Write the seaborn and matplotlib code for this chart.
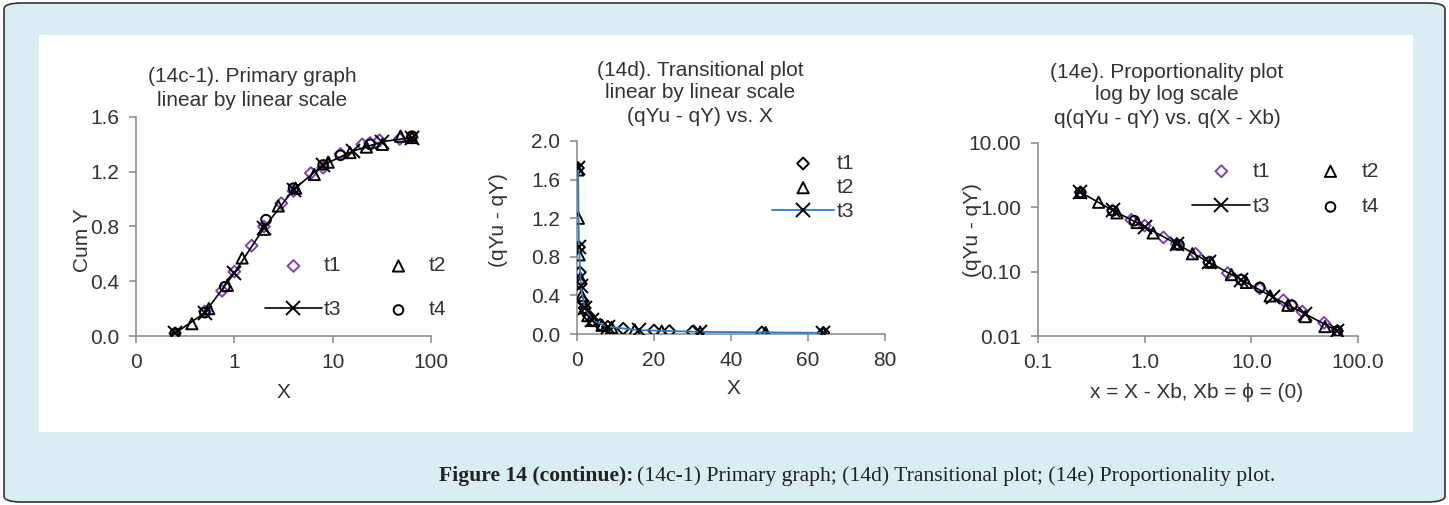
import numpy as np
import matplotlib
matplotlib.use('Agg')
import matplotlib.pyplot as plt
import seaborn as sns
from matplotlib.patches import FancyBboxPatch, Rectangle

sns.set_theme(style='ticks')
plt.rcParams['font.family'] = ['Liberation Sans', 'DejaVu Sans']
plt.rcParams['font.size'] = 15

# ---- data (X, cumulative Y, qYu - qY) ----
t1_X = [0.25, 0.5, 0.75, 1.0, 1.5, 2.0, 3.0, 4.0, 6.0, 8.0, 12, 20, 24, 30, 48, 64]
t1_cumY = [0.02, 0.18, 0.33, 0.47, 0.66, 0.80, 0.97, 1.06, 1.19, 1.23, 1.33, 1.40, 1.41, 1.43, 1.44, 1.45]
t1_diff = [1.72, 0.90, 0.64, 0.52, 0.34, 0.27, 0.19, 0.14, 0.095, 0.075, 0.055, 0.036, 0.030, 0.024, 0.016, 0.012]

t2_X = [0.25, 0.37, 0.55, 0.85, 1.2, 2.0, 2.8, 4.2, 6.5, 9.0, 15, 22, 32, 49, 64]
t2_cumY = [0.02, 0.09, 0.20, 0.37, 0.57, 0.78, 0.95, 1.08, 1.18, 1.27, 1.34, 1.38, 1.40, 1.46, 1.45]
t2_diff = [1.70, 1.20, 0.82, 0.58, 0.40, 0.27, 0.19, 0.14, 0.09, 0.068, 0.042, 0.030, 0.020, 0.014, 0.012]

t3_X = [0.25, 0.5, 1.0, 2.0, 4.0, 8.0, 16, 32, 64]
t3_cumY = [0.02, 0.17, 0.46, 0.79, 1.07, 1.25, 1.35, 1.42, 1.45]
t3_diff = [1.72, 0.90, 0.50, 0.27, 0.14, 0.075, 0.040, 0.022, 0.012]

t4_X = [0.25, 0.5, 0.8, 2.1, 4.0, 8.0, 12, 24, 64]
t4_cumY = [0.02, 0.17, 0.36, 0.85, 1.08, 1.25, 1.32, 1.40, 1.46]
t4_diff = [1.70, 0.88, 0.62, 0.26, 0.14, 0.075, 0.057, 0.030, 0.012]

purple = '#7F3FBF'
blue = '#2A7AC8'
axis_gray = '#868686'
text_col = '#333333'
FS = 15

fig = plt.figure(figsize=(14.49, 5.05), dpi=100)

# page-style frame: light blue rounded box with white inner area
fig.patches.append(FancyBboxPatch((4 / 1449, 3 / 505), 1441 / 1449, 499 / 505,
                                  boxstyle='round,pad=0,rounding_size=0.012',
                                  transform=fig.transFigure, facecolor='#D9EDF2',
                                  edgecolor='#333333', linewidth=1.2, zorder=-10))
fig.patches.append(Rectangle((39 / 1449, 1 - 432 / 505), 1374 / 1449, 397 / 505,
                             transform=fig.transFigure, facecolor='white',
                             edgecolor='none', zorder=-9))


def style_axes(ax):
    sns.despine(ax=ax)
    for s in ['left', 'bottom']:
        ax.spines[s].set_color(axis_gray)
        ax.spines[s].set_linewidth(1.1)
    ax.tick_params(which='major', direction='out', length=5, width=1.1, pad=7,
                   color=axis_gray, labelsize=FS, labelcolor=text_col)
    ax.tick_params(which='minor', length=0)
    ax.set_facecolor('white')
    ax.set_xlabel('')
    ax.set_ylabel('')


def hollow(ax, x, y, marker, color, size, label):
    sns.scatterplot(x=x, y=y, ax=ax, marker=marker, s=size, facecolors='none',
                    edgecolor=color, linewidth=1.4, label=label, zorder=3)


# ---- (14c-1) primary graph ----
ax1 = fig.add_axes([136 / 1449, 1 - 336 / 505, 295 / 1449, 219 / 505])
hollow(ax1, t1_X, t1_cumY, 'D', purple, 36, 't1')
hollow(ax1, t2_X, t2_cumY, '^', 'black', 65, 't2')
sns.lineplot(x=t3_X, y=t3_cumY, ax=ax1, color='black', lw=1.2, marker='x', ms=10,
             mew=1.4, mec='black', label='t3', zorder=4)
hollow(ax1, t4_X, t4_cumY, 'o', 'black', 48, 't4')
ax1.set_xscale('log')
ax1.set_xlim(0.1, 100)
ax1.set_ylim(0, 1.6)
ax1.set_xticks([0.1, 1, 10, 100])
ax1.set_xticklabels(['0', '1', '10', '100'])
ax1.set_yticks([0, 0.4, 0.8, 1.2, 1.6])
ax1.set_yticklabels(['0.0', '0.4', '0.8', '1.2', '1.6'])
style_axes(ax1)
h, l = ax1.get_legend_handles_labels()
order = [l.index(k) for k in ['t1', 't3', 't2', 't4']]
ax1.legend([h[i] for i in order], [l[i] for i in order], ncol=2, frameon=False,
           loc='lower right', bbox_to_anchor=(1.115, -0.01), handlelength=2.7,
           columnspacing=1.4, labelspacing=1.2, handletextpad=0.1, fontsize=FS,
           labelcolor=text_col)

# ---- (14d) transitional plot ----
ax2 = fig.add_axes([577 / 1449, 1 - 334 / 505, 308 / 1449, 193 / 505])
hollow(ax2, t1_X, t1_diff, 'D', 'black', 36, 't1')
hollow(ax2, t2_X, t2_diff, '^', 'black', 65, 't2')
sns.lineplot(x=t3_X, y=t3_diff, ax=ax2, color=blue, lw=1.3, marker='x', ms=10,
             mew=1.4, mec='black', label='t3', zorder=4)
ax2.set_xlim(0, 80)
ax2.set_ylim(0, 2.0)
ax2.set_xticks([0, 20, 40, 60, 80])
ax2.set_yticks([0, 0.4, 0.8, 1.2, 1.6, 2.0])
ax2.set_yticklabels(['0.0', '0.4', '0.8', '1.2', '1.6', '2.0'])
style_axes(ax2)
ax2.legend(frameon=False, loc='upper right', bbox_to_anchor=(0.96, 1.03),
           handlelength=3.0, labelspacing=0.25, handletextpad=0.1, fontsize=FS,
           labelcolor=text_col)

# ---- (14e) proportionality plot ----
ax3 = fig.add_axes([1038 / 1449, 1 - 336 / 505, 320 / 1449, 193 / 505])
hollow(ax3, t1_X, t1_diff, 'D', purple, 36, 't1')
hollow(ax3, t2_X, t2_diff, '^', 'black', 65, 't2')
sns.lineplot(x=t3_X, y=t3_diff, ax=ax3, color='black', lw=1.2, marker='x', ms=10,
             mew=1.4, mec='black', label='t3', zorder=4)
hollow(ax3, t4_X, t4_diff, 'o', 'black', 48, 't4')
ax3.set_xscale('log')
ax3.set_yscale('log')
ax3.set_xlim(0.1, 100)
ax3.set_ylim(0.01, 10)
ax3.set_xticks([0.1, 1, 10, 100])
ax3.set_xticklabels(['0.1', '1.0', '10.0', '100.0'])
ax3.set_yticks([0.01, 0.1, 1, 10])
ax3.set_yticklabels(['0.01', '0.10', '1.00', '10.00'])
style_axes(ax3)
h, l = ax3.get_legend_handles_labels()
order = [l.index(k) for k in ['t1', 't3', 't2', 't4']]
ax3.legend([h[i] for i in order], [l[i] for i in order], ncol=2, frameon=False,
           loc='upper right', bbox_to_anchor=(1.125, 1.0), handlelength=2.8,
           columnspacing=1.5, labelspacing=0.8, handletextpad=0.1, fontsize=FS,
           labelcolor=text_col)


# ---- titles and axis labels placed like the original chart areas ----
def ftext(x, y, s, **kw):
    fig.text(x / 1449, 1 - y / 505, s, ha='center', va='center', color=text_col,
             fontsize=FS, **kw)


ftext(252, 77, '(14c-1). Primary graph')
ftext(252, 100, 'linear by linear scale')
ftext(700, 70, '(14d). Transitional plot')
ftext(700, 93, 'linear by linear scale')
ftext(700, 117, '(qYu - qY) vs. X')
ftext(1167, 72, '(14e). Proportionality plot')
ftext(1167, 95, 'log by log scale')
ftext(1167, 118, 'q(qYu - qY) vs. q(X - Xb)')

ftext(283, 392, 'X')
ftext(733, 389, 'X')
ftext(1197, 392, 'x = X - Xb, Xb = ϕ = (0)')
ftext(83, 240, 'Cum Y', rotation=90)
ftext(498, 220, '(qYu - qY)', rotation=90)
ftext(973, 230, '(qYu - qY)', rotation=90)

# caption
cap_y = 1 - 476 / 505
t = fig.text(439 / 1449, cap_y, 'Figure 14 (continue):', fontweight='bold',
             family=['Liberation Serif', 'DejaVu Serif'], fontsize=15.6, va='center',
             color='#222222')
fig.canvas.draw()
bb = t.get_window_extent()
fig.text(bb.x1 / fig.bbox.width + 4 / 1449, cap_y,
         '(14c-1) Primary graph; (14d) Transitional plot; (14e) Proportionality plot.',
         family=['Liberation Serif', 'DejaVu Serif'], fontsize=15.6, va='center',
         color='#222222')

fig.savefig('out.png', dpi=100)
